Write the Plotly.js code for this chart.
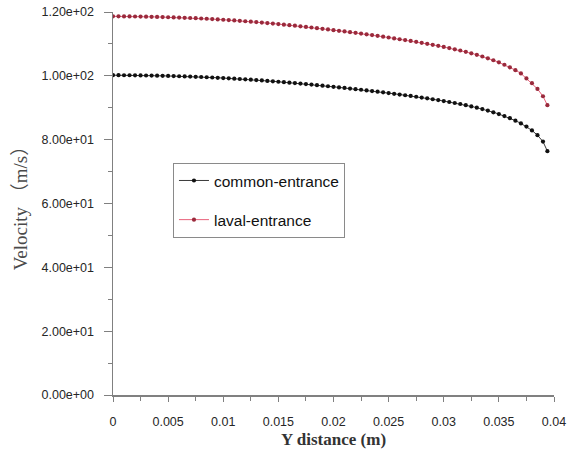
<!DOCTYPE html>
<html>
<head>
<meta charset="utf-8">
<script src="https://cdn.plot.ly/plotly-3.0.1.min.js"></script>
<style>
  html, body { margin: 0; padding: 0; background: #fff; }
  #chart { width: 575px; height: 454px; }
</style>
</head>
<body>
<div id="chart"></div>
<script>
// Distance across the channel (m)
const yDistance = [
  0.0000, 0.0005, 0.0010, 0.0015, 0.0020, 0.0025, 0.0030, 0.0035, 0.0040, 0.0045,
  0.0050, 0.0055, 0.0060, 0.0065, 0.0070, 0.0075, 0.0080, 0.0085, 0.0090, 0.0095,
  0.0100, 0.0105, 0.0110, 0.0115, 0.0120, 0.0125, 0.0130, 0.0135, 0.0140, 0.0145,
  0.0150, 0.0155, 0.0160, 0.0165, 0.0170, 0.0175, 0.0180, 0.0185, 0.0190, 0.0195,
  0.0200, 0.0205, 0.0210, 0.0215, 0.0220, 0.0225, 0.0230, 0.0235, 0.0240, 0.0245,
  0.0250, 0.0255, 0.0260, 0.0265, 0.0270, 0.0275, 0.0280, 0.0285, 0.0290, 0.0295,
  0.0300, 0.0305, 0.0310, 0.0315, 0.0320, 0.0325, 0.0330, 0.0335, 0.0340, 0.0345,
  0.0350, 0.0355, 0.0360, 0.0365, 0.0370, 0.0375, 0.0380, 0.0385, 0.0390, 0.0394
];

// Velocity profile, common entrance (m/s)
const commonEntrance = [
  100.20, 100.20, 100.19, 100.18, 100.16, 100.14, 100.11, 100.08, 100.04, 100.00,
  99.96, 99.92, 99.87, 99.82, 99.76, 99.70, 99.63, 99.56, 99.48, 99.39,
  99.30, 99.21, 99.11, 99.01, 98.90, 98.79, 98.67, 98.55, 98.42, 98.29,
  98.15, 98.01, 97.87, 97.72, 97.57, 97.41, 97.25, 97.08, 96.91, 96.73,
  96.55, 96.38, 96.20, 96.02, 95.83, 95.64, 95.44, 95.24, 95.03, 94.82,
  94.60, 94.37, 94.14, 93.92, 93.69, 93.45, 93.20, 92.94, 92.67, 92.39,
  92.10, 91.80, 91.49, 91.17, 90.80, 90.42, 90.02, 89.58, 89.10, 88.58,
  88.02, 87.40, 86.72, 85.96, 85.10, 84.10, 82.90, 81.40, 79.40, 76.40
];

// Velocity profile, laval entrance (m/s)
const lavalEntrance = [
  118.64, 118.64, 118.62, 118.61, 118.59, 118.57, 118.53, 118.49, 118.45, 118.40,
  118.35, 118.31, 118.25, 118.19, 118.12, 118.05, 117.96, 117.88, 117.78, 117.68,
  117.57, 117.46, 117.35, 117.23, 117.10, 116.97, 116.83, 116.68, 116.53, 116.38,
  116.21, 116.04, 115.88, 115.70, 115.52, 115.33, 115.14, 114.94, 114.74, 114.53,
  114.32, 114.11, 113.90, 113.69, 113.46, 113.24, 113.00, 112.76, 112.52, 112.27,
  112.01, 111.73, 111.46, 111.20, 110.93, 110.64, 110.35, 110.04, 109.72, 109.39,
  109.05, 108.69, 108.32, 107.94, 107.51, 107.06, 106.58, 106.06, 105.49, 104.88,
  104.22, 103.48, 102.68, 101.78, 100.76, 99.20, 97.70, 95.90, 93.60, 90.80
];

const seriesNames = ['common-entrance', 'laval-entrance'];

const xTickVals = [0, 0.005, 0.01, 0.015, 0.02, 0.025, 0.03, 0.035, 0.04];
const xTickText = ['0', '0.005', '0.01', '0.015', '0.02', '0.025', '0.03', '0.035', '0.04'];
const yTickVals = [0, 20, 40, 60, 80, 100, 120];
const yTickText = ['0.00e+00', '2.00e+01', '4.00e+01', '6.00e+01', '8.00e+01', '1.00e+02', '1.20e+02'];

const tickFont = { family: 'Liberation Sans, Arial, sans-serif', size: 12.5, color: '#262626' };
const serifFont = 'Liberation Serif, Times New Roman, Noto Sans CJK SC, serif';

const traces = [
  {
    x: yDistance, y: commonEntrance, name: seriesNames[0],
    type: 'scatter', mode: 'lines+markers', legendgroup: 'a',
    line: { color: '#3a3a3a', width: 1 },
    marker: { color: '#111111', size: 4.2, symbol: 'circle' }
  },
  {
    x: yDistance, y: lavalEntrance, name: seriesNames[1],
    type: 'scatter', mode: 'lines+markers', legendgroup: 'b',
    line: { color: '#e8607a', width: 1 },
    marker: { color: '#9a2a3c', size: 4.2, symbol: 'circle' }
  }
];

const layout = {
  width: 575, height: 454,
  margin: { l: 113, r: 21, t: 12, b: 59 },
  paper_bgcolor: '#ffffff', plot_bgcolor: '#ffffff',
  showlegend: true,
  legend: {
    x: 0.136, y: 0.606, xanchor: 'left', yanchor: 'top',
    bgcolor: '#ffffff', bordercolor: '#8a8a8a', borderwidth: 1,
    font: { family: 'Liberation Sans, Arial, sans-serif', size: 15.5, color: '#111' },
    traceorder: 'grouped', tracegroupgap: 16
  },
  xaxis: {
    range: [0, 0.04], fixedrange: true,
    showgrid: false, zeroline: false,
    showline: true, linecolor: '#808080', linewidth: 1.5,
    ticks: 'outside', ticklen: 5, tickwidth: 1, tickcolor: '#808080',
    tickmode: 'array', tickvals: xTickVals, ticktext: xTickText,
    tickfont: tickFont, ticklabelstandoff: 9,
    minor: { dtick: 0.0025, ticks: 'outside', ticklen: 4, tickcolor: '#808080', showgrid: false },
    title: { text: '<b>Y distance (m)</b>', font: { family: serifFont, size: 17, color: '#333' }, standoff: 5 }
  },
  yaxis: {
    range: [0, 120], fixedrange: true,
    showgrid: false, zeroline: false,
    showline: true, linecolor: '#808080', linewidth: 1.5,
    ticks: 'outside', ticklen: 8, tickwidth: 1, tickcolor: '#808080',
    tickmode: 'array', tickvals: yTickVals, ticktext: yTickText,
    tickfont: tickFont, ticklabelstandoff: 7,
    minor: { dtick: 10, ticks: 'outside', ticklen: 4, tickcolor: '#808080', showgrid: false },
    title: { text: 'Velocity （m/s）', font: { family: serifFont, size: 19, color: '#4a4a4a' }, standoff: 9 }
  }
};

Plotly.newPlot('chart', traces, layout, { staticPlot: true, displayModeBar: false });
</script>
</body>
</html>
